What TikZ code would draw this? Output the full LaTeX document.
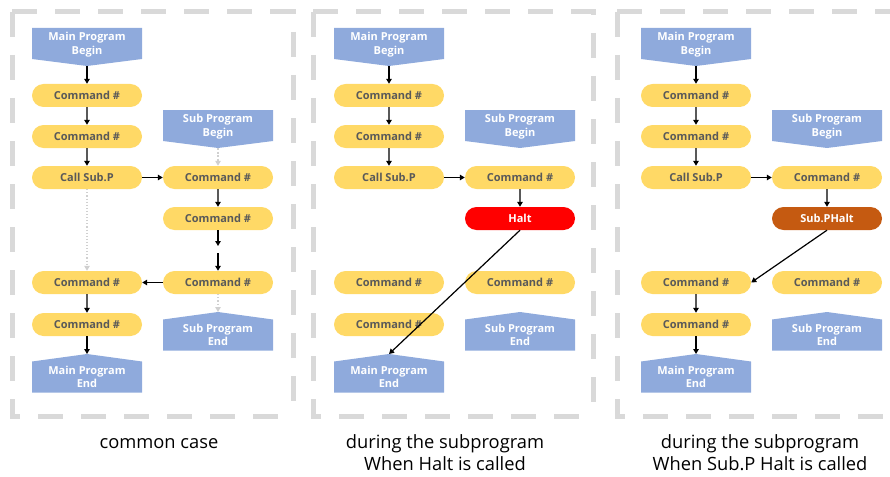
\documentclass[tikz,border=0pt]{standalone}
\usepackage{fontspec}
\setmainfont{Open Sans}
\usetikzlibrary{shapes.misc,arrows.meta}
\definecolor{pillY}{HTML}{FFD966}
\definecolor{pillT}{HTML}{595959}
\definecolor{blueF}{HTML}{8FAADC}
\definecolor{haltR}{HTML}{FF0000}
\definecolor{haltO}{HTML}{C55A11}
\definecolor{frameG}{HTML}{D9D9D9}
\definecolor{ghostG}{HTML}{D0D0D0}
\tikzset{
  pill/.style={rounded rectangle, fill=pillY, text=pillT, minimum width=110pt, minimum height=23pt, inner sep=0pt, font=\fontsize{11}{12}\selectfont\bfseries},
  redpill/.style={pill, fill=haltR, text=white},
  orangepill/.style={pill, fill=haltO, text=white},
  btext/.style={text=white, align=center, inner sep=0pt, font=\fontsize{11}{13.5}\selectfont\bfseries},
  conn/.style={draw=black, line width=1.2pt, -{Triangle[length=5pt,width=5.5pt]}},
  ghost/.style={draw=ghostG, line width=1.1pt, dotted, -{Triangle[length=5pt,width=5.5pt]}},
  ghostdash/.style={draw=ghostG, line width=1.1pt, dash pattern=on 2pt off 1.5pt, -{Triangle[length=5pt,width=5.5pt]}},
  frame/.style={draw=frameG, line width=5pt, dash pattern=on 25pt off 18pt},
  caption/.style={align=center, inner sep=0pt, font=\fontsize{18.3}{22}\selectfont}
}
% begin shape: name, cx, top, text
\newcommand\bshape[4]{%
  \fill[blueF] (#2-55,#3) -- (#2+55,#3) -- (#2+55,#3+31) -- (#2,#3+38) -- (#2-55,#3+31) -- cycle;
  \node[btext] (#1) at (#2,#3+16.5) {#4};
  \coordinate (#1-tip) at (#2,#3+38);
}
% end shape: name, cx, tip top, text
\newcommand\eshape[4]{%
  \fill[blueF] (#2,#3) -- (#2+55,#3+7.5) -- (#2+55,#3+38.5) -- (#2-55,#3+38.5) -- (#2-55,#3+7.5) -- cycle;
  \node[btext] (#1) at (#2,#3+23) {#4};
  \coordinate (#1-tip) at (#2,#3);
}
\newcommand\skel[1]{%
  \bshape{#1mb}{87}{28}{Main Program\\Begin}
  \node[pill] (#1c1) at (87,95.5) {Command \#};
  \node[pill] (#1c2) at (87,136.5) {Command \#};
  \node[pill] (#1call) at (87,177.5) {Call Sub.P};
  \bshape{#1sb}{218}{110}{Sub Program\\Begin}
  \node[pill] (#1s1) at (218,177.5) {Command \#};
  \node[pill] (#1m3) at (87,282.5) {Command \#};
  \node[pill] (#1m4) at (87,324.5) {Command \#};
  \node[pill] (#1s3) at (218,282.5) {Command \#};
  \eshape{#1me}{87}{354}{Main Program\\End}
  \eshape{#1se}{218}{312}{Sub Program\\End}
  \draw[conn] (#1mb-tip) -- (#1c1.north);
  \draw[conn] (#1c1) -- (#1c2);
  \draw[conn] (#1c2) -- (#1call);
  \draw[conn] (#1call.east) -- (#1s1.west);
}
\begin{document}
\begin{tikzpicture}[x=1pt,y=-1pt]
\useasboundingbox (0,0) rectangle (890,476);
% frames
\draw[frame] (12,12) -- (12,416) -- (293,416);
\draw[frame] (12,12) -- (293,12) -- (293,416);
\draw[frame] (313,12) -- (313,416) -- (593,416);
\draw[frame] (313,12) -- (593,12) -- (593,416);
\draw[frame] (617,12) -- (617,416) -- (895,416);
\draw[frame] (617,12) -- (895,12);
% panel 1
\begin{scope}
  \skel{a}
  \node[pill] (as2) at (218,218.5) {Command \#};
  \coordinate (abreak1) at (218,246);
  \coordinate (abreak2) at (218,253);
  \draw[ghostdash] (asb-tip) -- (as1.north);
  \draw[conn] (as1) -- (as2);
  \draw[conn] (as2.south) -- (abreak1);
  \draw[conn] (abreak2) -- (as3.north);
  \draw[ghost] (acall.south) -- (am3.north);
  \draw[conn] (as3.west) -- (am3.east);
  \draw[ghost] (as3.south) -- (ase-tip);
  \draw[conn] (am3) -- (am4);
  \draw[conn] (am4.south) -- (ame-tip);
\end{scope}
% panel 2
\begin{scope}[xshift=302pt]
  \skel{b}
  \node[redpill] (bs2) at (218,218.5) {Halt};
  \draw[conn] (bs1) -- (bs2);
  \draw[conn] (bs2.south) -- (bme-tip);
\end{scope}
% panel 3
\begin{scope}[xshift=609pt]
  \skel{c}
  \node[orangepill] (cs2) at (218,218.5) {Sub.PHalt};
  \draw[conn] (cs1) -- (cs2);
  \draw[conn] (cs2.south) -- (cm3.east);
  \draw[conn] (cm3) -- (cm4);
  \draw[conn] (cm4.south) -- (cme-tip);
\end{scope}
% captions
\node[caption, anchor=base] (cap1) at (159,448) {common case};
\node[caption, anchor=base] (cap2) at (445,470) {during the subprogram\\When Halt is called};
\node[caption, anchor=base] (cap3) at (760,470) {during the subprogram\\When Sub.P Halt is called};
\end{tikzpicture}
\end{document}
